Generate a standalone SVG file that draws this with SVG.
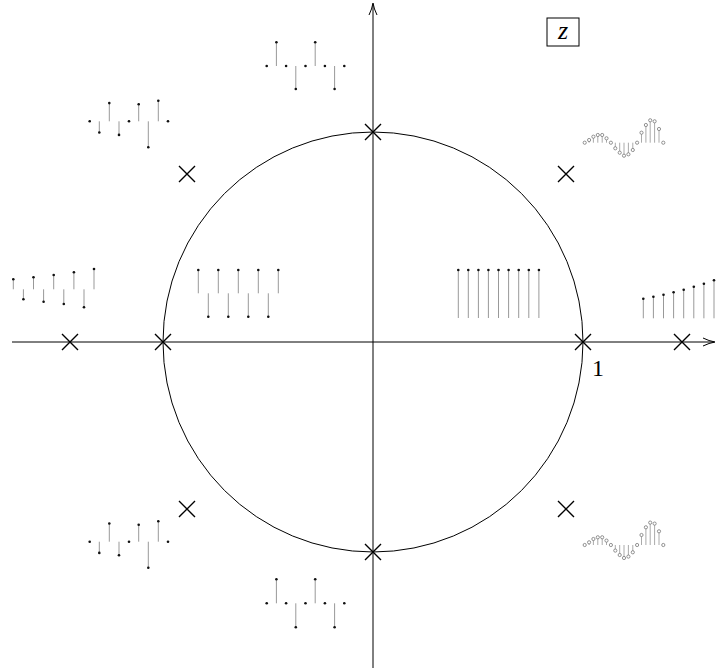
<svg xmlns="http://www.w3.org/2000/svg" width="720" height="671" viewBox="0 0 720 671">
<style>
.ax{stroke:#000;stroke-width:1;fill:none}
.cr{stroke:#000;stroke-width:1.4;fill:none}
.st{stroke:#999;stroke-width:1;fill:none}
.st2{stroke:#a0a0a0;stroke-width:0.9;fill:none}
.d{fill:#111}
.o{fill:#fff;stroke:#777;stroke-width:0.8}
.lbl{font-family:"Liberation Serif","DejaVu Serif",serif;fill:#000}
</style>
<rect width="720" height="671" fill="#fff"/>
<g id="connectors">
<line class="ax" x1="12" y1="342" x2="714" y2="342"/>
<path class="ax" d="M703,338 Q709,341 715,342 Q709,343 703,346"/>
<line class="ax" x1="373" y1="668" x2="373" y2="4"/>
<path class="ax" d="M369,15 Q372,9 373,3 Q374,9 377,15"/>
<circle class="ax" cx="373" cy="342" r="210"/>
</g>
<g id="poles">
<path class="cr" d="M365,124 l16,16 M381,124 l-16,16"/>
<path class="cr" d="M155,334 l16,16 M171,334 l-16,16"/>
<path class="cr" d="M575,334 l16,16 M591,334 l-16,16"/>
<path class="cr" d="M365,544 l16,16 M381,544 l-16,16"/>
<path class="cr" d="M62,334 l16,16 M78,334 l-16,16"/>
<path class="cr" d="M674,334 l16,16 M690,334 l-16,16"/>
<path class="cr" d="M179,166 l16,16 M195,166 l-16,16"/>
<path class="cr" d="M558,166 l16,16 M574,166 l-16,16"/>
<path class="cr" d="M179,501 l16,16 M195,501 l-16,16"/>
<path class="cr" d="M558,501 l16,16 M574,501 l-16,16"/>
</g>
<g id="label-one"><text class="lbl" x="592" y="376" font-size="24">1</text></g>
<g id="label-z">
<rect x="547" y="18" width="32" height="28" fill="none" stroke="#000" stroke-width="1"/>
<text class="lbl" x="563" y="39" font-size="26" font-style="italic" text-anchor="middle">z</text>
</g>
<g id="plot-top">
<path class="st" d="M276.4,66V42.3 M295.8,66V89 M315.2,66V42.3 M334.6,66V89"/>
<circle class="d" cx="266.7" cy="66" r="1.3"/><circle class="d" cx="276.4" cy="42.3" r="1.3"/><circle class="d" cx="286.1" cy="66" r="1.3"/><circle class="d" cx="295.8" cy="89" r="1.3"/><circle class="d" cx="305.5" cy="66" r="1.3"/><circle class="d" cx="315.2" cy="42.3" r="1.3"/><circle class="d" cx="324.9" cy="66" r="1.3"/><circle class="d" cx="334.6" cy="89" r="1.3"/><circle class="d" cx="344.3" cy="66" r="1.3"/>
</g>
<g id="plot-bottom">
<path class="st" d="M276.4,603.3V579.3 M295.8,603.3V627.3 M315.2,603.3V579.3 M334.6,603.3V627.3"/>
<circle class="d" cx="266.7" cy="603.3" r="1.3"/><circle class="d" cx="276.4" cy="579.3" r="1.3"/><circle class="d" cx="286.1" cy="603.3" r="1.3"/><circle class="d" cx="295.8" cy="627.3" r="1.3"/><circle class="d" cx="305.5" cy="603.3" r="1.3"/><circle class="d" cx="315.2" cy="579.3" r="1.3"/><circle class="d" cx="324.9" cy="603.3" r="1.3"/><circle class="d" cx="334.6" cy="627.3" r="1.3"/><circle class="d" cx="344.3" cy="603.3" r="1.3"/>
</g>
<g id="plot-upper-left">
<path class="st" d="M99.3,121.3V132.5 M109.3,121.3V103.1 M119,121.3V134.9 M138.7,121.3V104.3 M148.3,121.3V147.3 M158.3,121.3V100.8"/>
<circle class="d" cx="89.7" cy="121.3" r="1.3"/><circle class="d" cx="99.3" cy="132.5" r="1.3"/><circle class="d" cx="109.3" cy="103.1" r="1.3"/><circle class="d" cx="119" cy="134.9" r="1.3"/><circle class="d" cx="129" cy="121.3" r="1.3"/><circle class="d" cx="138.7" cy="104.3" r="1.3"/><circle class="d" cx="148.3" cy="147.3" r="1.3"/><circle class="d" cx="158.3" cy="100.8" r="1.3"/><circle class="d" cx="168" cy="121.3" r="1.3"/>
</g>
<g id="plot-lower-left">
<path class="st" d="M99.3,541.7V552.9 M109.3,541.7V523.5 M119,541.7V555.3 M138.7,541.7V524.7 M148.3,541.7V567.7 M158.3,541.7V521.2"/>
<circle class="d" cx="89.7" cy="541.7" r="1.3"/><circle class="d" cx="99.3" cy="552.9" r="1.3"/><circle class="d" cx="109.3" cy="523.5" r="1.3"/><circle class="d" cx="119" cy="555.3" r="1.3"/><circle class="d" cx="129" cy="541.7" r="1.3"/><circle class="d" cx="138.7" cy="524.7" r="1.3"/><circle class="d" cx="148.3" cy="567.7" r="1.3"/><circle class="d" cx="158.3" cy="521.2" r="1.3"/><circle class="d" cx="168" cy="541.7" r="1.3"/>
</g>
<g id="plot-far-left">
<path class="st" d="M13.3,289.3V279.3 M23.4,289.3V299.3 M33.5,289.3V277.3 M43.6,289.3V301.7 M53.7,289.3V275 M63.8,289.3V304 M73.9,289.3V272.3 M84,289.3V307.3 M94,289.3V269"/>
<circle class="d" cx="13.3" cy="279.3" r="1.3"/><circle class="d" cx="23.4" cy="299.3" r="1.3"/><circle class="d" cx="33.5" cy="277.3" r="1.3"/><circle class="d" cx="43.6" cy="301.7" r="1.3"/><circle class="d" cx="53.7" cy="275" r="1.3"/><circle class="d" cx="63.8" cy="304" r="1.3"/><circle class="d" cx="73.9" cy="272.3" r="1.3"/><circle class="d" cx="84" cy="307.3" r="1.3"/><circle class="d" cx="94" cy="269" r="1.3"/>
</g>
<g id="plot-minus-one">
<path class="st" d="M198.3,293.3V270 M208.3,293.3V316.7 M218.3,293.3V270 M228.3,293.3V316.7 M238.3,293.3V270 M248.3,293.3V316.7 M258.3,293.3V270 M268.3,293.3V316.7 M278.3,293.3V270"/>
<circle class="d" cx="198.3" cy="270" r="1.3"/><circle class="d" cx="208.3" cy="316.7" r="1.3"/><circle class="d" cx="218.3" cy="270" r="1.3"/><circle class="d" cx="228.3" cy="316.7" r="1.3"/><circle class="d" cx="238.3" cy="270" r="1.3"/><circle class="d" cx="248.3" cy="316.7" r="1.3"/><circle class="d" cx="258.3" cy="270" r="1.3"/><circle class="d" cx="268.3" cy="316.7" r="1.3"/><circle class="d" cx="278.3" cy="270" r="1.3"/>
</g>
<g id="plot-one">
<path class="st" d="M458.3,318V270 M468.3,318V270 M478.4,318V270 M488.4,318V270 M498.5,318V270 M508.6,318V270 M518.7,318V270 M528.8,318V270 M538.9,318V270"/>
<circle class="d" cx="458.3" cy="270" r="1.3"/><circle class="d" cx="468.3" cy="270" r="1.3"/><circle class="d" cx="478.4" cy="270" r="1.3"/><circle class="d" cx="488.4" cy="270" r="1.3"/><circle class="d" cx="498.5" cy="270" r="1.3"/><circle class="d" cx="508.6" cy="270" r="1.3"/><circle class="d" cx="518.7" cy="270" r="1.3"/><circle class="d" cx="528.8" cy="270" r="1.3"/><circle class="d" cx="538.9" cy="270" r="1.3"/>
</g>
<g id="plot-far-right">
<path class="st" d="M643.3,318.3V298.7 M653.4,318.3V296.7 M663.5,318.3V294.7 M673.6,318.3V292.3 M683.7,318.3V289.7 M693.8,318.3V286.7 M703.9,318.3V283.7 M714,318.3V280.3"/>
<circle class="d" cx="643.3" cy="298.7" r="1.3"/><circle class="d" cx="653.4" cy="296.7" r="1.3"/><circle class="d" cx="663.5" cy="294.7" r="1.3"/><circle class="d" cx="673.6" cy="292.3" r="1.3"/><circle class="d" cx="683.7" cy="289.7" r="1.3"/><circle class="d" cx="693.8" cy="286.7" r="1.3"/><circle class="d" cx="703.9" cy="283.7" r="1.3"/><circle class="d" cx="714" cy="280.3" r="1.3"/>
</g>
<g id="plot-upper-right">
<path class="st2" d="M589.1,142.7V140 M593.4,142.7V136.7 M597.8,142.7V135 M602.2,142.7V135 M606.5,142.7V138.3 M615.3,142.7V148.3 M619.7,142.7V152.7 M624,142.7V155.7 M628.4,142.7V154.3 M632.8,142.7V150 M641.5,142.7V132.7 M645.9,142.7V125 M650.2,142.7V120.3 M654.6,142.7V121.3 M659,142.7V129"/>
<circle class="o" cx="584.7" cy="142.7" r="1.6"/><circle class="o" cx="589.1" cy="140" r="1.6"/><circle class="o" cx="593.4" cy="136.7" r="1.6"/><circle class="o" cx="597.8" cy="135" r="1.6"/><circle class="o" cx="602.2" cy="135" r="1.6"/><circle class="o" cx="606.5" cy="138.3" r="1.6"/><circle class="o" cx="610.9" cy="142.7" r="1.6"/><circle class="o" cx="615.3" cy="148.3" r="1.6"/><circle class="o" cx="619.7" cy="152.7" r="1.6"/><circle class="o" cx="624" cy="155.7" r="1.6"/><circle class="o" cx="628.4" cy="154.3" r="1.6"/><circle class="o" cx="632.8" cy="150" r="1.6"/><circle class="o" cx="637.1" cy="142.7" r="1.6"/><circle class="o" cx="641.5" cy="132.7" r="1.6"/><circle class="o" cx="645.9" cy="125" r="1.6"/><circle class="o" cx="650.2" cy="120.3" r="1.6"/><circle class="o" cx="654.6" cy="121.3" r="1.6"/><circle class="o" cx="659" cy="129" r="1.6"/><circle class="o" cx="663.3" cy="142.7" r="1.6"/>
</g>
<g id="plot-lower-right">
<path class="st2" d="M589.1,545V542.3 M593.4,545V539 M597.8,545V537.3 M602.2,545V537.3 M606.5,545V540.6 M615.3,545V550.6 M619.7,545V555 M624,545V558 M628.4,545V556.6 M632.8,545V552.3 M641.5,545V535 M645.9,545V527.3 M650.2,545V522.6 M654.6,545V523.6 M659,545V531.3"/>
<circle class="o" cx="584.7" cy="545" r="1.6"/><circle class="o" cx="589.1" cy="542.3" r="1.6"/><circle class="o" cx="593.4" cy="539" r="1.6"/><circle class="o" cx="597.8" cy="537.3" r="1.6"/><circle class="o" cx="602.2" cy="537.3" r="1.6"/><circle class="o" cx="606.5" cy="540.6" r="1.6"/><circle class="o" cx="610.9" cy="545" r="1.6"/><circle class="o" cx="615.3" cy="550.6" r="1.6"/><circle class="o" cx="619.7" cy="555" r="1.6"/><circle class="o" cx="624" cy="558" r="1.6"/><circle class="o" cx="628.4" cy="556.6" r="1.6"/><circle class="o" cx="632.8" cy="552.3" r="1.6"/><circle class="o" cx="637.1" cy="545" r="1.6"/><circle class="o" cx="641.5" cy="535" r="1.6"/><circle class="o" cx="645.9" cy="527.3" r="1.6"/><circle class="o" cx="650.2" cy="522.6" r="1.6"/><circle class="o" cx="654.6" cy="523.6" r="1.6"/><circle class="o" cx="659" cy="531.3" r="1.6"/><circle class="o" cx="663.3" cy="545" r="1.6"/>
</g>
</svg>
